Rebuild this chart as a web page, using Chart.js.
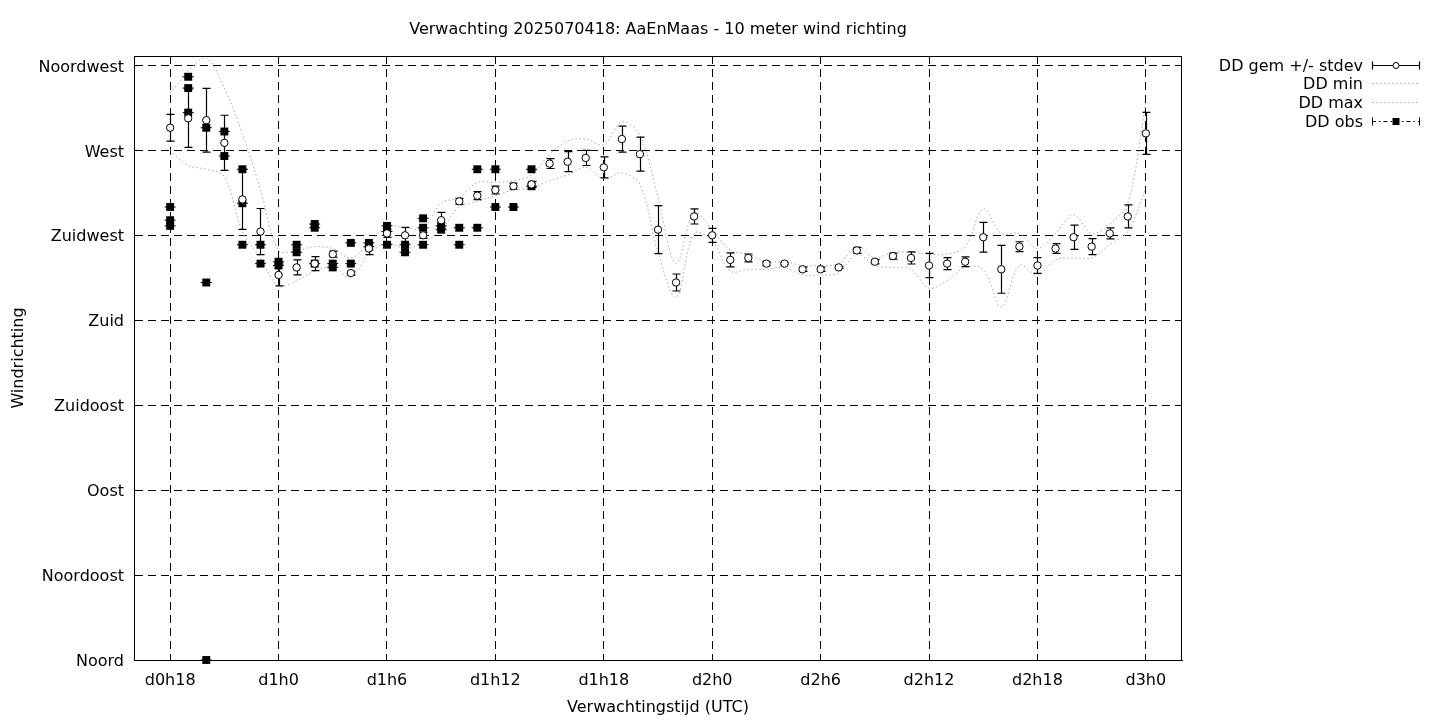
<!DOCTYPE html>
<html>
<head>
<meta charset="utf-8">
<title>Verwachting 2025070418: AaEnMaas - 10 meter wind richting</title>
<script src="https://cdn.jsdelivr.net/npm/chart.js@4.4.0/dist/chart.umd.min.js"></script>
<style>
  html, body { margin: 0; padding: 0; background: #fff; }
  #wrap { width: 1440px; height: 720px; }
</style>
</head>
<body>
<div id="wrap"><canvas id="grafiek" width="1440" height="720"></canvas></div>
<script>
// Verwachtingsuren (uren na d0h0)
const uren = [18, 19, 20, 21, 22, 23, 24, 25, 26, 27, 28, 29, 30, 31, 32, 33, 34, 35, 36, 37,
              38, 39, 40, 41, 42, 43, 44, 45, 46, 47, 48, 49, 50, 51, 52, 53, 54, 55, 56, 57,
              58, 59, 60, 61, 62, 63, 64, 65, 66, 67, 68, 69, 70, 71, 72];

// Gemiddelde windrichting (graden) en standaardafwijking
const ddGem = [282, 287, 286, 274, 244, 227, 204, 208, 210, 215, 205, 218, 226, 225, 225, 233, 243, 246, 249, 251,
               252, 263, 264, 266, 261, 276, 268, 228, 200, 235, 225, 212, 213, 210, 210, 207, 207, 208, 217, 211,
               214, 213, 209, 210, 211, 224, 207, 219, 209, 218, 224, 219, 226, 235, 279];
const ddStdev = [7.1, 15.4, 16.9, 14.6, 15.9, 12.2, 5.8, 4.0, 3.7, 1.6, 1.1, 3.2, 2.1, 4.2, 1.6, 4.2, 1.6, 2.1, 2.1, 1.6,
                 1.6, 2.6, 5.3, 4.0, 5.6, 6.9, 9.0, 12.7, 4.5, 4.0, 3.7, 3.7, 2.1, 1.1, 0.5, 1.1, 1.1, 0.5, 1.6, 1.1,
                 1.6, 3.2, 6.4, 3.2, 2.6, 7.9, 12.7, 2.6, 4.2, 2.6, 6.4, 4.2, 2.9, 6.1, 11.1];

// Minimum en maximum van de ensembleleden
const ddMin = [270, 262, 260, 256, 227, 213, 198, 201, 206, 208, 203, 215, 221, 218, 221, 228, 240, 243, 246, 249,
               250, 254, 257, 261, 255, 258, 252, 216, 192, 226, 222, 206, 207, 207, 208, 204, 204, 205, 215, 209,
               208, 207, 197, 201, 208, 207, 187, 209, 204, 212, 213, 213, 220, 227, 250];
const ddMax = [300, 312, 319, 303, 279, 249, 217, 217, 219, 218, 213, 221, 230, 229, 229, 242, 245, 253, 253, 254,
               257, 268, 275, 276, 273, 285, 278, 245, 210, 237, 228, 217, 215, 211, 211, 209, 209, 210, 219, 213,
               216, 216, 215, 215, 219, 239, 226, 226, 218, 226, 236, 226, 231, 242, 295];

// Waarnemingen (meerdere per uur)
const obsUren = [18, 18, 18, 19, 19, 19, 20, 20, 20, 21, 21, 22, 22, 22, 23, 23, 24, 24, 25, 25,
                 26, 26, 26, 27, 27, 28, 28, 29, 29, 30, 30, 30, 31, 31, 32, 32, 32, 33, 33, 34,
                 34, 35, 35, 36, 36, 37, 38, 38];
const obsWaarden = [240, 233, 230, 309, 303, 290, 282, 200, 0, 280, 267, 260, 242, 220, 220, 210, 211, 209, 220, 216,
                    231, 229, 210, 210, 208, 221, 210, 221, 219, 230, 227, 220, 220, 216, 234, 229, 220, 230, 228, 229,
                    220, 260, 229, 260, 240, 240, 260, 251];

// As-indeling
const tijdTicks = [18, 24, 30, 36, 42, 48, 54, 60, 66, 72];
const tijdLabels = ['d0h18', 'd1h0', 'd1h6', 'd1h12', 'd1h18', 'd2h0', 'd2h6', 'd2h12', 'd2h18', 'd3h0'];
const richtingTicks = [0, 45, 90, 135, 180, 225, 270, 315];
const richtingLabels = ['Noord', 'Noordoost', 'Oost', 'Zuidoost', 'Zuid', 'Zuidwest', 'West', 'Noordwest'];

const titel = 'Verwachting 2025070418: AaEnMaas - 10 meter wind richting';
const legendaTeksten = ['DD gem +/- stdev', 'DD min', 'DD max', 'DD obs'];

const lettertype = '"DejaVu Sans", sans-serif';
const grijs = '#a8a8a8';

Chart.defaults.color = '#000';
Chart.defaults.font.family = lettertype;
Chart.defaults.font.size = 16;

// Foutbalken, titel, kader en legenda zelf tekenen (gnuplot-stijl)
const gnuplotPlugin = {
  id: 'gnuplotStijl',
  beforeDatasetDraw(chart, args) {
    if (args.index !== 0) return;
    const sx = chart.scales.x, sy = chart.scales.y, ctx = chart.ctx;
    ctx.save();
    ctx.strokeStyle = '#000';
    ctx.lineWidth = 1.2;
    ctx.beginPath();
    uren.forEach((u, i) => {
      const px = Math.round(sx.getPixelForValue(u)) + 0.5;
      const boven = sy.getPixelForValue(ddGem[i] + ddStdev[i]);
      const onder = sy.getPixelForValue(ddGem[i] - ddStdev[i]);
      ctx.moveTo(px, boven); ctx.lineTo(px, onder);
      ctx.moveTo(px - 4, boven); ctx.lineTo(px + 4, boven);
      ctx.moveTo(px - 4, onder); ctx.lineTo(px + 4, onder);
    });
    ctx.stroke();
    ctx.restore();
  },
  afterDatasetDraw(chart, args) {
    if (args.index !== 1) return;
    const sx = chart.scales.x, sy = chart.scales.y, ctx = chart.ctx;
    ctx.save();
    ctx.strokeStyle = '#000';
    ctx.lineWidth = 1;
    ctx.beginPath();
    obsUren.forEach((u, i) => {
      const px = sx.getPixelForValue(u);
      const py = sy.getPixelForValue(obsWaarden[i]);
      ctx.moveTo(px - 5.5, py); ctx.lineTo(px + 5.5, py);
    });
    ctx.stroke();
    ctx.restore();
  },
  afterDraw(chart) {
    const ctx = chart.ctx, ca = chart.chartArea;
    ctx.save();
    // kader
    ctx.strokeStyle = '#000';
    ctx.lineWidth = 1;
    ctx.strokeRect(Math.round(ca.left) + 0.5, Math.round(ca.top) + 0.5,
                   Math.round(ca.right - ca.left) - 1, Math.round(ca.bottom - ca.top));
    // titel
    ctx.fillStyle = '#000';
    ctx.font = '16px ' + lettertype;
    ctx.textAlign = 'center';
    ctx.textBaseline = 'middle';
    ctx.fillText(titel, (ca.left + ca.right) / 2, 30);

    // legenda
    const xTekst = 1363, x1 = 1372, x2 = 1420, xm = 1396;
    const rijY = [67, 85, 104, 123];
    ctx.textAlign = 'right';
    legendaTeksten.forEach((t, i) => ctx.fillText(t, xTekst, rijY[i]));

    let y = rijY[0] - 1.5;
    ctx.lineWidth = 1.2;
    ctx.beginPath();
    ctx.moveTo(x1, y); ctx.lineTo(x2, y);
    ctx.moveTo(x1 + 0.5, y - 4); ctx.lineTo(x1 + 0.5, y + 4);
    ctx.moveTo(x2 - 0.5, y - 4); ctx.lineTo(x2 - 0.5, y + 4);
    ctx.stroke();
    ctx.beginPath();
    ctx.arc(xm, y, 3, 0, Math.PI * 2);
    ctx.fillStyle = '#fff';
    ctx.fill();
    ctx.lineWidth = 1;
    ctx.stroke();

    ctx.strokeStyle = grijs;
    ctx.setLineDash([1.5, 2.5]);
    [rijY[1], rijY[2]].forEach(yy => {
      ctx.beginPath();
      ctx.moveTo(x1, yy - 1.5); ctx.lineTo(x2, yy - 1.5);
      ctx.stroke();
    });

    y = rijY[3] - 1.5;
    ctx.strokeStyle = '#000';
    ctx.setLineDash([4, 3, 1.5, 3]);
    ctx.beginPath();
    ctx.moveTo(x1, y); ctx.lineTo(x2, y);
    ctx.stroke();
    ctx.setLineDash([]);
    ctx.beginPath();
    ctx.moveTo(x1 + 0.5, y - 4); ctx.lineTo(x1 + 0.5, y + 4);
    ctx.moveTo(x2 - 0.5, y - 4); ctx.lineTo(x2 - 0.5, y + 4);
    ctx.stroke();
    ctx.fillStyle = '#000';
    ctx.fillRect(xm - 3.5, y - 3.5, 7, 7);
    ctx.restore();
  }
};

const naarPunten = (xs, ys) => xs.map((x, i) => ({ x: x, y: ys[i] }));

new Chart(document.getElementById('grafiek'), {
  type: 'scatter',
  data: {
    datasets: [
      {
        label: legendaTeksten[0],
        data: naarPunten(uren, ddGem),
        pointStyle: 'circle',
        pointRadius: 3.7,
        pointBackgroundColor: '#fff',
        pointBorderColor: '#000',
        pointBorderWidth: 1,
        showLine: false
      },
      {
        label: legendaTeksten[3],
        data: naarPunten(obsUren, obsWaarden),
        pointStyle: 'rect',
        pointRadius: 5.6,
        pointBackgroundColor: '#000',
        pointBorderColor: '#000',
        pointBorderWidth: 0,
        showLine: false,
        clip: 6
      },
      {
        label: legendaTeksten[1],
        data: naarPunten(uren, ddMin),
        showLine: true,
        pointRadius: 0,
        borderColor: grijs,
        borderWidth: 1,
        borderDash: [1.5, 2.5],
        tension: 0.35
      },
      {
        label: legendaTeksten[2],
        data: naarPunten(uren, ddMax),
        showLine: true,
        pointRadius: 0,
        borderColor: grijs,
        borderWidth: 1,
        borderDash: [1.5, 2.5],
        tension: 0.35
      }
    ]
  },
  options: {
    responsive: false,
    animation: false,
    devicePixelRatio: 1,
    layout: { padding: { left: 0, right: 258, top: 56, bottom: 0 } },
    plugins: {
      legend: { display: false },
      title: { display: false },
      tooltip: { enabled: false }
    },
    scales: {
      x: {
        type: 'linear',
        min: 16,
        max: 74,
        afterBuildTicks: (scale) => { scale.ticks = tijdTicks.map(v => ({ value: v })); },
        afterFit: (scale) => { scale.height = 60; },
        ticks: {
          autoSkip: false,
          maxRotation: 0,
          padding: 11,
          callback: (v, i) => tijdLabels[i]
        },
        grid: { color: '#000', lineWidth: 1, drawTicks: false },
        border: { display: true, color: '#000', width: 1, dash: [8, 5] },
        title: { display: true, text: 'Verwachtingstijd (UTC)', padding: { top: 4, bottom: 3 } }
      },
      y: {
        min: 0,
        max: 320,
        afterBuildTicks: (scale) => { scale.ticks = richtingTicks.map(v => ({ value: v })); },
        afterFit: (scale) => { scale.width = 134; },
        ticks: {
          autoSkip: false,
          padding: 10,
          labelOffset: 2,
          callback: (v, i) => richtingLabels[i]
        },
        grid: { color: '#000', lineWidth: 1, drawTicks: false },
        border: { display: true, color: '#000', width: 1, dash: [8, 5] },
        title: { display: true, text: 'Windrichting', padding: { top: 9, bottom: 4 } }
      }
    }
  },
  plugins: [gnuplotPlugin]
});
</script>
</body>
</html>
